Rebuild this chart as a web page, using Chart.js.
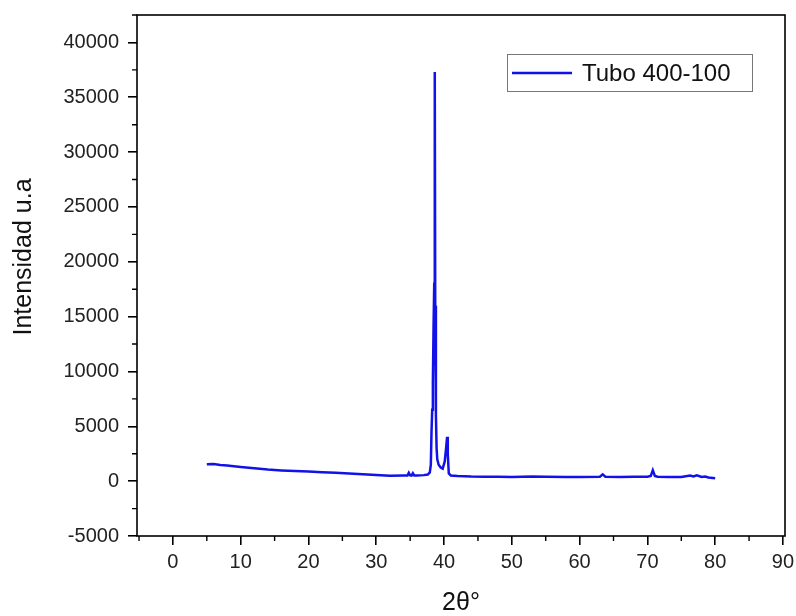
<!DOCTYPE html>
<html>
<head>
<meta charset="utf-8">
<script src="https://cdn.jsdelivr.net/npm/chart.js@4/dist/chart.umd.min.js"></script>
<style>
  html, body { margin: 0; padding: 0; background: #ffffff; }
  #wrap { position: relative; width: 796px; height: 616px; }
</style>
</head>
<body>
<div id="wrap"><canvas id="c" width="796" height="616"></canvas></div>
<script>
// ---- data ----
const seriesLabel = "Tubo 400-100";
const xTitle = "2θ°";
const yTitle = "Intensidad u.a";

const twoTheta = [
  5, 6, 7, 8, 10, 12, 14, 16, 18, 20, 22, 24, 26, 28, 30, 32, 34,
  34.6, 34.8, 35.0, 35.2, 35.4, 35.6, 36, 37, 37.6, 37.9,
  38.05, 38.15, 38.25, 38.35, 38.45, 38.55, 38.63, 38.7, 38.8, 38.9, 39.0,
  39.2, 39.5, 39.8, 40.1, 40.3, 40.45, 40.55, 40.7, 41.0,
  42, 44, 46, 48, 50, 53, 55, 58, 60, 63, 63.4, 63.8, 66, 68, 70,
  70.5, 70.8, 71.1, 71.5, 73, 75, 76.3, 76.8, 77.3, 78, 78.5, 79, 80
];
const intensity = [
  1550, 1560, 1480, 1420, 1300, 1180, 1060, 980, 920, 870, 820, 760, 700, 620, 560, 490, 520,
  520, 760, 520, 500, 720, 520, 520, 550, 600, 800,
  1500, 4500, 6500, 9000, 14000, 18000, 37300, 16000, 6000, 3000, 2000,
  1500, 1250, 1150, 1800, 3000, 4050, 2500, 700, 520,
  470, 420, 410, 400, 390, 420, 400, 390, 390, 400, 620, 400, 390, 400, 400,
  480, 1000, 480, 400, 390, 380, 520, 430, 540, 380, 430, 330, 260
];

const xTickValues = [0, 10, 20, 30, 40, 50, 60, 70, 80, 90];
const yTickValues = [-5000, 0, 5000, 10000, 15000, 20000, 25000, 30000, 35000, 40000];
const xMinorValues = [-5, 5, 15, 25, 35, 45, 55, 65, 75, 85];
const yMinorValues = [-2500, 2500, 7500, 12500, 17500, 22500, 27500, 32500, 37500, 42500];

const FONT = "'Liberation Sans', Arial, sans-serif";
const LINE_COLOR = "rgb(18,18,232)";

const points = twoTheta.map((x, i) => ({ x: x, y: intensity[i] }));

const framePlugin = {
  id: 'frame',
  afterDraw(chart) {
    const ctx = chart.ctx;
    const a = chart.chartArea;
    const xs = chart.scales.x, ys = chart.scales.y;
    ctx.save();
    // frame
    ctx.strokeStyle = '#000';
    ctx.lineWidth = 1.6;
    ctx.strokeRect(a.left, a.top, a.right - a.left, a.bottom - a.top);
    // minor ticks
    ctx.lineWidth = 1.4;
    ctx.beginPath();
    xMinorValues.forEach(v => {
      const px = xs.getPixelForValue(v);
      if (px >= a.left - 0.5 && px <= a.right + 0.5) {
        ctx.moveTo(px, a.bottom); ctx.lineTo(px, a.bottom + 5);
      }
    });
    yMinorValues.forEach(v => {
      const py = ys.getPixelForValue(v);
      if (py >= a.top - 0.5 && py <= a.bottom + 0.5) {
        ctx.moveTo(a.left, py); ctx.lineTo(a.left - 5, py);
      }
    });
    ctx.stroke();
    // axis titles
    ctx.fillStyle = '#111';
    ctx.font = '25px ' + FONT;
    ctx.textAlign = 'center';
    ctx.textBaseline = 'middle';
    ctx.fillText(xTitle, (a.left + a.right) / 2, 603);
    ctx.save();
    ctx.translate(24, 257);
    ctx.rotate(-Math.PI / 2);
    ctx.fillText(yTitle, 0, 0);
    ctx.restore();
    // legend box
    const lx = 507, ly = 54, lw = 245, lh = 37;
    ctx.strokeStyle = '#777';
    ctx.lineWidth = 1;
    ctx.strokeRect(lx + 0.5, ly + 0.5, lw, lh);
    ctx.strokeStyle = LINE_COLOR;
    ctx.lineWidth = 2.5;
    ctx.beginPath();
    ctx.moveTo(512, 73); ctx.lineTo(572, 73);
    ctx.stroke();
    ctx.fillStyle = '#111';
    ctx.font = '24px ' + FONT;
    ctx.textAlign = 'left';
    ctx.fillText(chart.data.datasets[0].label, 582, 74);
    ctx.restore();
  }
};

new Chart(document.getElementById('c'), {
  type: 'line',
  data: {
    datasets: [{
      label: seriesLabel,
      data: points,
      borderColor: LINE_COLOR,
      backgroundColor: LINE_COLOR,
      borderWidth: 2.5,
      pointRadius: 0,
      tension: 0,
      fill: false
    }]
  },
  options: {
    responsive: false,
    animation: false,
    devicePixelRatio: 1,
    layout: { padding: { left: 0, right: 11, top: 15, bottom: 0 } },
    plugins: {
      legend: { display: false },
      tooltip: { enabled: false }
    },
    scales: {
      x: {
        type: 'linear',
        min: -5.3, max: 90.3,
        afterBuildTicks: s => { s.ticks = xTickValues.map(v => ({ value: v })); },
        afterFit: s => { s.height = 80; s.paddingLeft = 0; s.paddingRight = 0; },
        grid: { drawOnChartArea: false, drawTicks: true, tickLength: 9, color: '#000', lineWidth: 1.6 },
        border: { display: false },
        ticks: { color: '#222', font: { family: FONT, size: 20 }, padding: 5, maxRotation: 0 }
      },
      y: {
        type: 'linear',
        min: -5000, max: 42500,
        afterBuildTicks: s => { s.ticks = yTickValues.map(v => ({ value: v })); },
        afterFit: s => { s.width = 137; s.paddingTop = 0; s.paddingBottom = 0; },
        grid: { drawOnChartArea: false, drawTicks: true, tickLength: 9, color: '#000', lineWidth: 1.6 },
        border: { display: false },
        ticks: { color: '#222', font: { family: FONT, size: 20 }, padding: 9, callback: v => String(v) }
      }
    }
  },
  plugins: [framePlugin]
});
</script>
</body>
</html>
